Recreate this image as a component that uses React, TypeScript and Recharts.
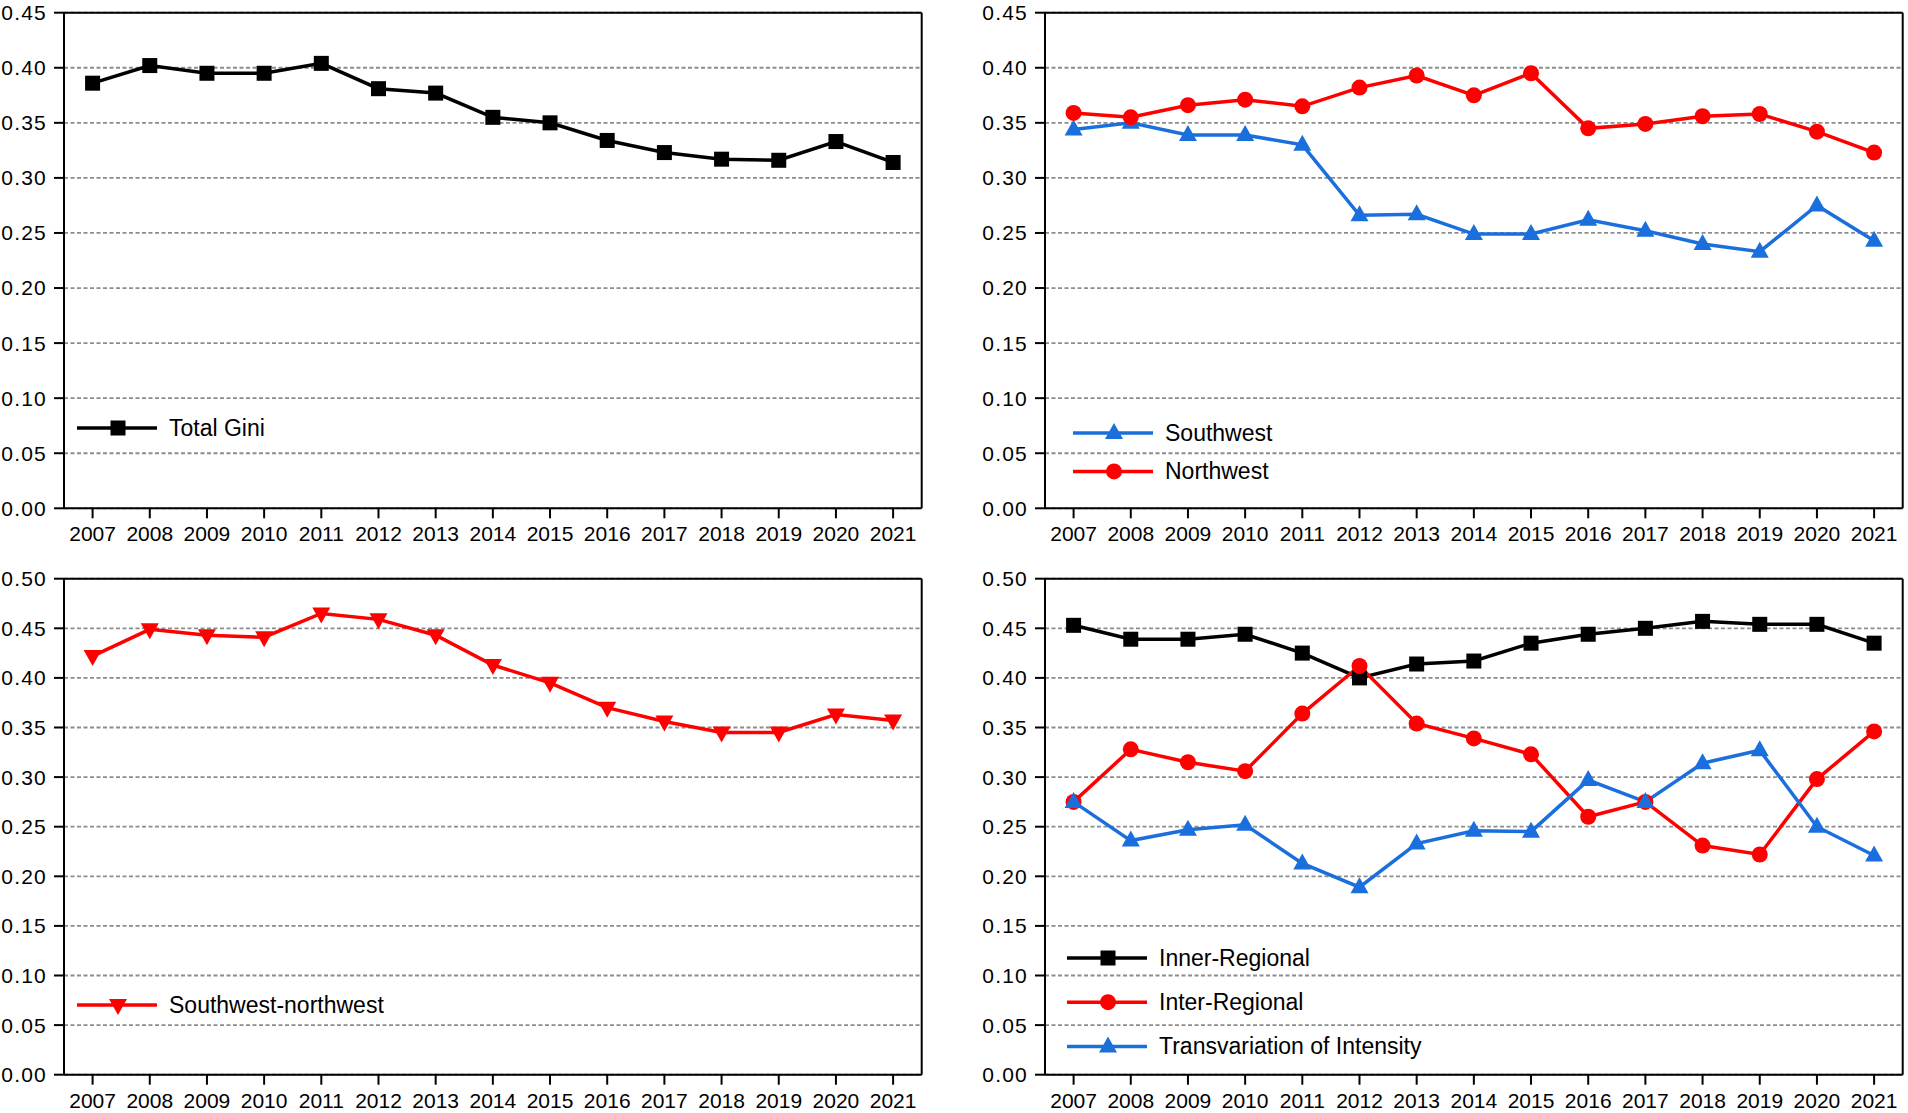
import React from "react";
import { CartesianGrid, Legend, Line, LineChart, ReferenceLine, XAxis, YAxis } from "recharts";

const years = [2007, 2008, 2009, 2010, 2011, 2012, 2013, 2014, 2015, 2016, 2017, 2018, 2019, 2020, 2021];

const totalGini = [0.386, 0.402, 0.395, 0.395, 0.404, 0.381, 0.377, 0.355, 0.35, 0.334, 0.323, 0.317, 0.316, 0.333, 0.314];

const southwest = [0.344, 0.35, 0.339, 0.339, 0.33, 0.266, 0.267, 0.249, 0.249, 0.262, 0.252, 0.24, 0.233, 0.275, 0.243];
const northwest = [0.359, 0.355, 0.366, 0.371, 0.365, 0.382, 0.393, 0.375, 0.395, 0.345, 0.349, 0.356, 0.358, 0.342, 0.323];

const southwestNorthwest = [0.422, 0.449, 0.443, 0.441, 0.465, 0.459, 0.443, 0.413, 0.395, 0.37, 0.356, 0.345, 0.345, 0.363, 0.357];

const innerRegional = [0.453, 0.439, 0.439, 0.444, 0.425, 0.4, 0.414, 0.417, 0.435, 0.444, 0.45, 0.457, 0.454, 0.454, 0.435];
const interRegional = [0.275, 0.328, 0.315, 0.306, 0.364, 0.412, 0.354, 0.339, 0.323, 0.26, 0.275, 0.231, 0.222, 0.298, 0.346];
const transvariation = [0.275, 0.236, 0.247, 0.252, 0.213, 0.189, 0.233, 0.246, 0.245, 0.297, 0.275, 0.314, 0.327, 0.25, 0.221];

const topTicks = [0, 0.05, 0.1, 0.15, 0.2, 0.25, 0.3, 0.35, 0.4, 0.45];
const bottomTicks = [0, 0.05, 0.1, 0.15, 0.2, 0.25, 0.3, 0.35, 0.4, 0.45, 0.5];

const BLACK = "#000000";
const RED = "#ff0000";
const BLUE = "#1a6fdc";
const FONT = '"Liberation Sans", Arial, sans-serif';

type MarkerKind = "square" | "circle" | "up" | "down";

type Series = { key: string; name: string; color: string; marker: MarkerKind; values: number[] };

const Marker = ({ kind, cx, cy, color }: { kind: MarkerKind; cx: number; cy: number; color: string }) => {
  if (kind === "square") return <rect x={cx - 7.5} y={cy - 7.5} width={15} height={15} fill={color} />;
  if (kind === "circle") return <circle cx={cx} cy={cy} r={8} fill={color} />;
  if (kind === "up") return <polygon points={`${cx},${cy - 10} ${cx - 9},${cy + 6} ${cx + 9},${cy + 6}`} fill={color} />;
  return <polygon points={`${cx},${cy + 10} ${cx - 9},${cy - 6} ${cx + 9},${cy - 6}`} fill={color} />;
};

const LegendBox = ({ series, gap }: { series: Series[]; gap: number }) => (
  <svg width={420} height={series.length * gap + 10} style={{ display: "block", overflow: "visible" }}>
    {series.map((s, i) => {
      const y = 20 + i * gap;
      return (
        <g key={s.key}>
          <line x1={0} x2={80} y1={y} y2={y} stroke={s.color} strokeWidth={3.5} />
          <Marker kind={s.marker} cx={41} cy={y} color={s.color} />
          <text x={92} y={y} dominantBaseline="central" fontSize={23} fontFamily={FONT} fill="#000">
            {s.name}
          </text>
        </g>
      );
    })}
  </svg>
);

type PanelProps = {
  left: number;
  top: number;
  plotHeight: number;
  series: Series[];
  ticks: number[];
  legendLeft: number;
  legendTop: number;
  legendGap: number;
};

const Panel = ({ left, top, plotHeight, series, ticks, legendLeft, legendTop, legendGap }: PanelProps) => {
  const data = years.map((year, i) => {
    const row: Record<string, number> = { year };
    series.forEach((s) => (row[s.key] = s.values[i]));
    return row;
  });
  const height = 548;
  const yMax = ticks[ticks.length - 1];
  const xMin = years[0] - 0.5;
  const xMax = years[years.length - 1] + 0.5;
  return (
    <div style={{ position: "absolute", left, top }}>
      <LineChart
        width={926}
        height={height}
        data={data}
        margin={{ top: 12.7, right: 4.3, left: 0, bottom: height - 12.7 - plotHeight - 35 }}
      >
        <CartesianGrid vertical={false} stroke="#8c8c8c" strokeDasharray="4 2.5" strokeWidth={1.8} />
        <XAxis
          dataKey="year"
          type="number"
          domain={[xMin, xMax]}
          ticks={years}
          height={35}
          tickSize={10}
          tickMargin={8}
          interval={0}
          tickFormatter={(v: number) => String(v)}
          axisLine={{ stroke: BLACK, strokeWidth: 2 }}
          tickLine={{ stroke: BLACK, strokeWidth: 2 }}
          tick={{ fill: BLACK, fontSize: 21, fontFamily: FONT }}
        />
        <YAxis
          type="number"
          domain={[0, yMax]}
          ticks={ticks}
          width={64}
          tickSize={10}
          tickMargin={7}
          interval={0}
          tickFormatter={(v: number) => v.toFixed(2)}
          axisLine={{ stroke: BLACK, strokeWidth: 2 }}
          tickLine={{ stroke: BLACK, strokeWidth: 2 }}
          tick={{ fill: BLACK, fontSize: 21, fontFamily: FONT, letterSpacing: 1.2 }}
        />
        <ReferenceLine y={yMax} stroke={BLACK} strokeWidth={2} />
        <ReferenceLine x={xMax} stroke={BLACK} strokeWidth={2} />
        <Legend
          layout="vertical"
          align="center"
          verticalAlign="middle"
          wrapperStyle={{ left: legendLeft, top: legendTop, width: 420 }}
          content={() => <LegendBox series={series} gap={legendGap} />}
        />
        {series.map((s) => (
          <Line
            key={s.key}
            type="linear"
            dataKey={s.key}
            name={s.name}
            stroke={s.color}
            strokeWidth={3.5}
            isAnimationActive={false}
            activeDot={false}
            dot={(p: any) => <Marker key={`${s.key}-${p.index}`} kind={s.marker} cx={p.cx} cy={p.cy} color={s.color} />}
          />
        ))}
      </LineChart>
    </div>
  );
};

const App = () => {
  const panelA: Series[] = [{ key: "total", name: "Total Gini", color: BLACK, marker: "square", values: totalGini }];
  const panelB: Series[] = [
    { key: "sw", name: "Southwest", color: BLUE, marker: "up", values: southwest },
    { key: "nw", name: "Northwest", color: RED, marker: "circle", values: northwest },
  ];
  const panelC: Series[] = [{ key: "swnw", name: "Southwest-northwest", color: RED, marker: "down", values: southwestNorthwest }];
  const panelD: Series[] = [
    { key: "inner", name: "Inner-Regional", color: BLACK, marker: "square", values: innerRegional },
    { key: "inter", name: "Inter-Regional", color: RED, marker: "circle", values: interRegional },
    { key: "trans", name: "Transvariation of Intensity", color: BLUE, marker: "up", values: transvariation },
  ];

  return (
    <div style={{ position: "absolute", left: 0, top: 0, width: 1908, height: 1113, background: "#fff", fontFamily: FONT }}>
      <Panel left={0} top={0} plotHeight={495.6} series={panelA} ticks={topTicks} legendLeft={76.7} legendTop={408.3} legendGap={40} />
      <Panel left={981} top={0} plotHeight={495.6} series={panelB} ticks={topTicks} legendLeft={92.3} legendTop={413.3} legendGap={38.4} />
      <Panel left={0} top={565.6} plotHeight={496} series={panelC} ticks={bottomTicks} legendLeft={77} legendTop={419.6} legendGap={40} />
      <Panel left={981} top={565.6} plotHeight={496} series={panelD} ticks={bottomTicks} legendLeft={85.7} legendTop={372.1} legendGap={44.2} />
    </div>
  );
};

export default App;
